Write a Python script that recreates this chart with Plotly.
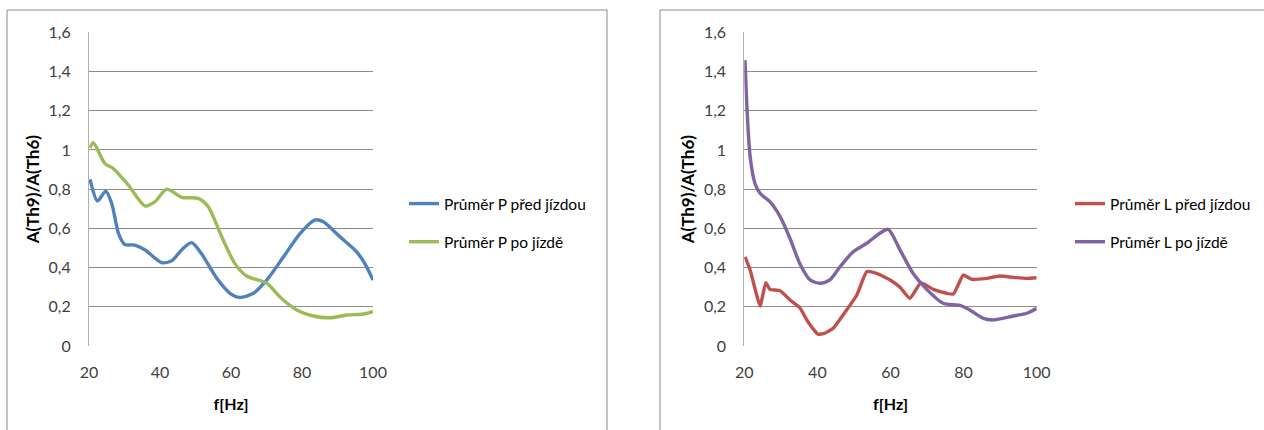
import plotly.graph_objects as go

# ---------- data ----------
f_p_pred = [20.3, 22.4, 24.7, 26.4, 28.3, 30.1, 32.9, 35.8, 40.5, 43.3, 46.1, 48.9, 51.7, 56.0,
            59.7, 62.5, 66.3, 70.1, 74.8, 79.5, 83.7, 86.0, 90.7, 95.4, 97.7, 100.0]
v_p_pred = [0.85, 0.74, 0.79, 0.727, 0.575, 0.518, 0.515, 0.49, 0.425, 0.435, 0.49, 0.527, 0.47, 0.345,
            0.269, 0.248, 0.269, 0.337, 0.455, 0.575, 0.643, 0.634, 0.557, 0.48, 0.42, 0.337]

f_p_po = [20.3, 21.2, 24.5, 26.8, 31.1, 35.8, 38.6, 41.9, 46.1, 50.8, 53.6, 57.4, 61.1,
          64.4, 70.1, 73.8, 78.5, 83.2, 87.9, 92.6, 97.3, 100.0]
v_p_po = [1.01, 1.037, 0.93, 0.906, 0.82, 0.714, 0.736, 0.80, 0.758, 0.753, 0.71, 0.557, 0.42,
          0.357, 0.32, 0.25, 0.184, 0.153, 0.144, 0.158, 0.163, 0.175]

f_l_pred = [20.2, 21.6, 22.9, 24.3, 25.9, 27.0, 29.8, 32.5, 35.2, 37.1, 38.5, 40.2, 42.0, 44.3, 48.0, 50.8,
            53.5, 56.2, 59.9, 62.6, 65.3, 68.3, 71.7, 75.4, 77.2, 78.5, 79.9, 82.2, 86.3, 90.0, 93.6, 97.3, 100.0]
v_l_pred = [0.455, 0.388, 0.294, 0.204, 0.323, 0.289, 0.282, 0.235, 0.195, 0.133, 0.095, 0.06, 0.065, 0.09, 0.184, 0.26,
            0.379, 0.37, 0.337, 0.3, 0.243, 0.322, 0.289, 0.269, 0.265, 0.311, 0.362, 0.34, 0.345, 0.357, 0.35, 0.345, 0.348]

f_l_po = [20.2, 20.8, 21.6, 22.9, 24.3, 27.0, 29.8, 32.5, 35.2, 38.0, 40.7, 43.4, 46.2, 49.8, 53.5, 57.1, 59.4,
          62.6, 66.2, 69.9, 74.4, 79.0, 81.7, 85.4, 88.1, 93.6, 97.3, 100.0]
v_l_po = [1.458, 1.187, 0.965, 0.83, 0.779, 0.736, 0.66, 0.549, 0.42, 0.337, 0.32, 0.337, 0.404, 0.481, 0.524, 0.575, 0.595,
          0.49, 0.37, 0.289, 0.218, 0.207, 0.184, 0.141, 0.133, 0.153, 0.167, 0.192]

names = ["Průměr P před jízdou", "Průměr P po jízdě", "Průměr L před jízdou", "Průměr L po jízdě"]
colors = ["#4F81BD", "#9BBB59", "#C0504D", "#8064A2"]

x_ticks = [20, 40, 60, 80, 100]
y_ticks = [0, 0.2, 0.4, 0.6, 0.8, 1.0, 1.2, 1.4, 1.6]
y_ticktext = ["0", "0,2", "0,4", "0,6", "0,8", "1", "1,2", "1,4", "1,6"]
x_title = "f[Hz]"
y_title = "A(Th9)/A(Th6)"

W, H = 1264, 430
FONT = "Lato"
TICKCOL = "#404040"

fig = go.Figure()
series = [(f_p_pred, v_p_pred, "x", "y", "legend", 0.75),
          (f_p_po, v_p_po, "x", "y", "legend", 0.75),
          (f_l_pred, v_l_pred, "x2", "y2", "legend2", 0.45),
          (f_l_po, v_l_po, "x2", "y2", "legend2", 0.75)]
for i, (fx, fy, xa, ya, lg, sm) in enumerate(series):
    fig.add_trace(go.Scatter(
        x=fx, y=fy, xaxis=xa, yaxis=ya, mode="lines", name=names[i],
        legend=lg, legendgroup=str(i),
        line=dict(color=colors[i], width=3.4, shape="spline", smoothing=sm)))

ydom = [1 - 346 / H, 1 - 32.3 / H]

def xax(domain, anchor):
    return dict(domain=domain, anchor=anchor, range=[20, 100], tickvals=x_ticks,
                showgrid=False, zeroline=False, showline=False, ticks="", automargin=False,
                ticklabelstandoff=15,
                tickfont=dict(family=FONT, size=16, color=TICKCOL),
                title=dict(text="<b>" + x_title + "</b>", standoff=18,
                           font=dict(family=FONT, size=16, color="#000")))

def yax(anchor):
    return dict(domain=ydom, anchor=anchor, range=[0, 1.6], tickvals=y_ticks, ticktext=y_ticktext,
                showgrid=True, gridcolor="#8c8c8c", gridwidth=1, zeroline=False,
                showline=True, linecolor="#b0b0b0", linewidth=1, ticks="", automargin=False,
                ticklabelstandoff=14,
                tickfont=dict(family=FONT, size=16, color=TICKCOL),
                title=dict(text="<b>" + y_title + "</b>", standoff=4,
                           font=dict(family=FONT, size=17, color="#000")))

legend_common = dict(orientation="v", bgcolor="rgba(0,0,0,0)", borderwidth=0,
                     font=dict(family=FONT, size=15.5, color="#000"),
                     tracegroupgap=15, traceorder="grouped", itemwidth=30,
                     xanchor="left", yanchor="top")

fig.update_layout(
    width=W, height=H, margin=dict(l=0, r=0, t=0, b=0, autoexpand=False),
    paper_bgcolor="white", plot_bgcolor="white",
    xaxis=xax([89 / W, 373 / W], "y"),
    yaxis=yax("x"),
    xaxis2=xax([744.3 / W, 1036.7 / W], "y2"),
    yaxis2=yax("x2"),
    legend=dict(x=404 / W, y=1 - 187 / H, **legend_common),
    legend2=dict(x=1070 / W, y=1 - 187 / H, **legend_common),
    showlegend=True,
)

# chart frames
fig.add_shape(type="rect", xref="paper", yref="paper",
              x0=7 / W, x1=607 / W, y0=-0.05, y1=1 - 10 / H,
              line=dict(color="#8a8a8a", width=1), fillcolor="rgba(0,0,0,0)", layer="below")
fig.add_shape(type="rect", xref="paper", yref="paper",
              x0=660 / W, x1=1.05, y0=-0.05, y1=1 - 10 / H,
              line=dict(color="#8a8a8a", width=1), fillcolor="rgba(0,0,0,0)", layer="below")

fig.write_html("out.html")
